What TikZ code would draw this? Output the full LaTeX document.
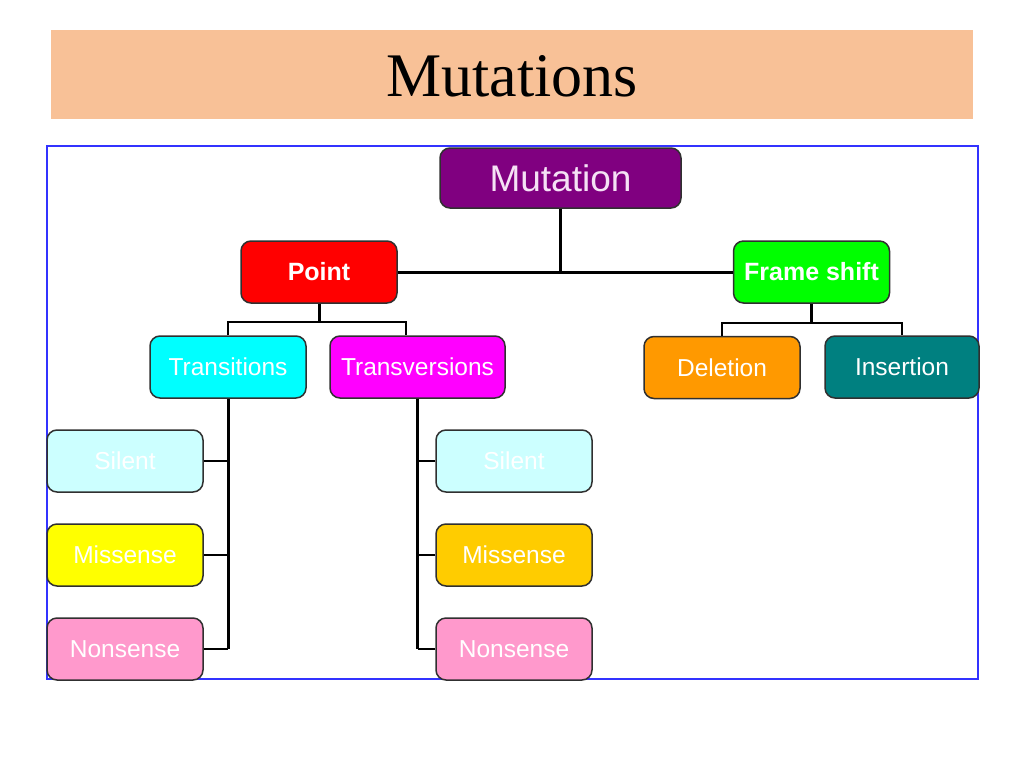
\documentclass[tikz,border=0pt]{standalone}
\usepackage{fontspec}
\setmainfont{Liberation Serif}
\newfontfamily\arialf{Liberation Sans}
\definecolor{band}{HTML}{F8C197}
\definecolor{frameblue}{HTML}{3333FF}
\definecolor{cpurple}{HTML}{800080}
\definecolor{cred}{HTML}{FF0000}
\definecolor{cgreen}{HTML}{00FF00}
\definecolor{ccyan}{HTML}{00FFFF}
\definecolor{cmag}{HTML}{FF00FF}
\definecolor{corange}{HTML}{FF9900}
\definecolor{cteal}{HTML}{008080}
\definecolor{clcyan}{HTML}{CCFFFF}
\definecolor{cyellow}{HTML}{FFFF00}
\definecolor{cgold}{HTML}{FFCC00}
\definecolor{cpink}{HTML}{FF99CC}
\definecolor{bord}{HTML}{303030}
\begin{document}
\begin{tikzpicture}[x=1pt,y=-1pt,
  box/.style={draw=bord, line width=1.5pt, rounded corners=10pt, inner sep=0pt,
    minimum width=156pt, minimum height=62pt, text=white,
    font=\arialf\fontsize{24.5}{28}\selectfont},
  boldbox/.style={box, font=\arialf\bfseries\fontsize{25}{28}\selectfont},
  conn/.style={line width=3pt, draw=black},
  branch/.style={line width=2.4pt, draw=black}]
\useasboundingbox (0,0) rectangle (1024,768);
% title band
\fill[band] (51,30) rectangle (973,119);
\node[font=\fontsize{62}{68}\selectfont] (title) at (512,76) {Mutations};
% frame
\draw[frameblue, line width=2pt] (47,146) rectangle (978,679);
% nodes
\node[box, fill=cpurple, minimum width=241pt, minimum height=60pt, text={rgb,255:red,245;green,225;blue,245},
  font=\arialf\fontsize{37}{40}\selectfont] (mut) at (560.5,178) {Mutation};
\node[boldbox, fill=cred] (pt) at (319,272) {Point};
\node[boldbox, fill=cgreen] (fs) at (811.5,272) {Frame shift};
\node[box, fill=ccyan] (tr) at (228,367) {Transitions};
\node[box, fill=cmag, minimum width=175pt] (tv) at (417.5,367) {Transversions};
\node[box, fill=corange] (del) at (722,367.5) {Deletion};
\node[box, fill=cteal, minimum width=154pt] (ins) at (902,367) {Insertion};
\node[box, fill=clcyan] (ls) at (125,461) {Silent};
\node[box, fill=cyellow] (lm) at (125,555) {Missense};
\node[box, fill=cpink] (ln) at (125,649) {Nonsense};
\node[box, fill=clcyan] (rs) at (514,461) {Silent};
\node[box, fill=cgold] (rm) at (514,555) {Missense};
\node[box, fill=cpink] (rn) at (514,649) {Nonsense};
\coordinate (j1) at (319,322);
\coordinate (j2) at (811.5,323);
\coordinate (tvdrop) at (406,335);
% Mutation level
\draw[conn] (mut.south) -- (mut.south |- pt.east);
\draw[conn] (pt.east) -- (fs.west);
% Point children
\draw[conn] (pt.south) -- (j1);
\draw[branch] (tr.north) |- (j1) -| (tvdrop);
% Frame shift children
\draw[conn] (fs.south) -- (j2);
\draw[branch] (del.north) |- (j2) -| (ins.north);
% Transitions children
\draw[conn] (tr.south) -- (tr.south |- ln.east);
\draw[branch] (ls.east) -- (ls.east -| tr.south);
\draw[branch] (lm.east) -- (lm.east -| tr.south);
\draw[branch] (ln.east) -- (ln.east -| tr.south);
% Transversions children
\draw[conn] (tv.south) -- (tv.south |- rn.west);
\draw[branch] (rs.west) -- (rs.west -| tv.south);
\draw[branch] (rm.west) -- (rm.west -| tv.south);
\draw[branch] (rn.west) -- (rn.west -| tv.south);
\end{tikzpicture}
\end{document}
